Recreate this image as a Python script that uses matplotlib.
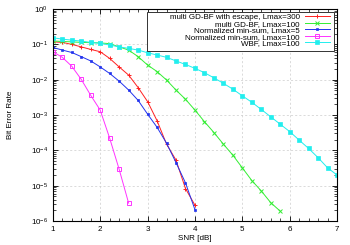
import numpy as np
import matplotlib
matplotlib.use("Agg")
import matplotlib.pyplot as plt
from matplotlib.patches import Rectangle
from matplotlib.ticker import MultipleLocator, LogLocator, NullFormatter

plt.rcParams['font.family'] = ['Liberation Sans', 'DejaVu Sans']

# SNR points (dB)
snr_red = [1.0, 1.2, 1.4, 1.6, 1.8, 2.0, 2.2, 2.4, 2.6, 2.8, 3.0, 3.2, 3.4, 3.6, 3.8, 4.0]
ber_red = [0.118, 0.114, 0.100, 0.085, 0.072, 0.062, 0.040, 0.023, 0.0135, 0.006,
           0.0024, 6.9e-4, 1.5e-4, 5.3e-5, 8.3e-6, 2.8e-6]

snr_green = [1.0, 1.2, 1.4, 1.6, 1.8, 2.0, 2.2, 2.4, 2.6, 2.8, 3.0, 3.2, 3.4, 3.6, 3.8,
             4.0, 4.2, 4.4, 4.6, 4.8, 5.0, 5.2, 5.4, 5.6, 5.8]
ber_green = [0.125, 0.121, 0.118, 0.114, 0.112, 0.110, 0.105, 0.085, 0.069, 0.045, 0.026,
             0.017, 0.0098, 0.0051, 0.0028, 0.00138, 6.5e-4, 3.2e-4, 1.5e-4, 7.3e-5,
             3.2e-5, 1.4e-5, 7.1e-6, 3.3e-6, 1.9e-6]

snr_blue = [1.0, 1.2, 1.4, 1.6, 1.8, 2.0, 2.2, 2.4, 2.6, 2.8, 3.0, 3.2, 3.4, 3.6, 3.8, 4.0]
ber_blue = [0.082, 0.069, 0.059, 0.045, 0.034, 0.023, 0.015, 0.0091, 0.0051, 0.0026,
            0.00106, 4.5e-4, 1.6e-4, 4.5e-5, 1.2e-5, 2.1e-6]

snr_mag = [1.0, 1.2, 1.4, 1.6, 1.8, 2.0, 2.2, 2.4, 2.6]
ber_mag = [0.062, 0.043, 0.024, 0.0102, 0.0036, 0.00138, 2.2e-4, 2.9e-5, 3.2e-6]

snr_cyan = [1.0, 1.2, 1.4, 1.6, 1.8, 2.0, 2.2, 2.4, 2.6, 2.8, 3.0, 3.2, 3.4, 3.6, 3.8,
            4.0, 4.2, 4.4, 4.6, 4.8, 5.0, 5.2, 5.4, 5.6, 5.8, 6.0, 6.2, 6.4, 6.6, 6.8, 7.0]
ber_cyan = [0.154, 0.141, 0.132, 0.124, 0.114, 0.107, 0.096, 0.085, 0.077, 0.069, 0.058,
            0.050, 0.043, 0.034, 0.027, 0.021, 0.0158, 0.0113, 0.0079, 0.0054, 0.0035,
            0.0023, 0.00144, 8.9e-4, 5.5e-4, 3.4e-4, 1.95e-4, 1.13e-4, 6.2e-5, 3.2e-5, 2.0e-5]

fig = plt.figure(figsize=(3.5, 2.45), dpi=100)
ax = fig.add_axes([0.151, 0.098, 0.812, 0.865])

lw = 0.7
ax.plot(snr_red, ber_red, color='#ff2020', marker='+', ms=3.5, mew=0.7, lw=lw,
        label='multi GD-BF with escape, Lmax=300')
ax.plot(snr_green, ber_green, color='#33ee33', marker='x', ms=2.6, mew=0.7, lw=lw,
        label='multi GD-BF, Lmax=100')
ax.plot(snr_blue, ber_blue, color='#2233ee', marker='s', ms=2.0, mew=0.5, lw=lw,
        label='Normalized min-sum, Lmax=5')
ax.plot(snr_mag, ber_mag, color='#ff33ff', marker='s', ms=2.6, mew=0.7, mfc='none', lw=lw,
        label='Normalized min-sum, Lmax=100')
ax.plot(snr_cyan, ber_cyan, color='#22eeee', marker='s', ms=2.4, mew=0.5, lw=lw,
        label='WBF, Lmax=100')

ax.set_yscale('log')
ax.set_xlim(1, 7)
ax.set_ylim(1e-6, 1)
ax.xaxis.set_major_locator(MultipleLocator(1))
ax.xaxis.set_minor_locator(MultipleLocator(0.2))
ax.yaxis.set_major_locator(LogLocator(base=10, numticks=10))
ax.yaxis.set_minor_locator(LogLocator(base=10, subs=np.arange(2, 10), numticks=20))
ax.yaxis.set_minor_formatter(NullFormatter())
ax.tick_params(which='both', direction='in', top=True, right=True, labelsize=5.8)
ax.tick_params(which='major', length=3.5, width=0.6)
ax.tick_params(which='minor', length=2, width=0.5)
ax.grid(True, which='major', ls=(0, (3, 3)), color='#cccccc', lw=0.5)
for s in ax.spines.values():
    s.set_linewidth(0.8)
ax.xaxis.get_offset_text().set_visible(False)
ax.yaxis.get_offset_text().set_visible(False)

ax.set_xlabel('SNR [dB]', fontsize=5.8, labelpad=1.5)
ax.set_ylabel('Bit Error Rate', fontsize=5.8, labelpad=12)

# legend box, drawn separately so it can be wider than the entries
box = Rectangle((0.331, 0.802), 0.658, 0.184, transform=ax.transAxes,
                facecolor='white', edgecolor='#333333', lw=0.7, zorder=4.5)
ax.add_patch(box)
leg = ax.legend(loc='upper right', bbox_to_anchor=(0.985, 0.99), fontsize=5.8,
                markerfirst=False, frameon=False,
                labelspacing=-0.14, handlelength=3.2, handletextpad=0.6,
                borderpad=0.3, borderaxespad=0.0)
leg.set_zorder(5)

fig.savefig('out.png', dpi=100)
